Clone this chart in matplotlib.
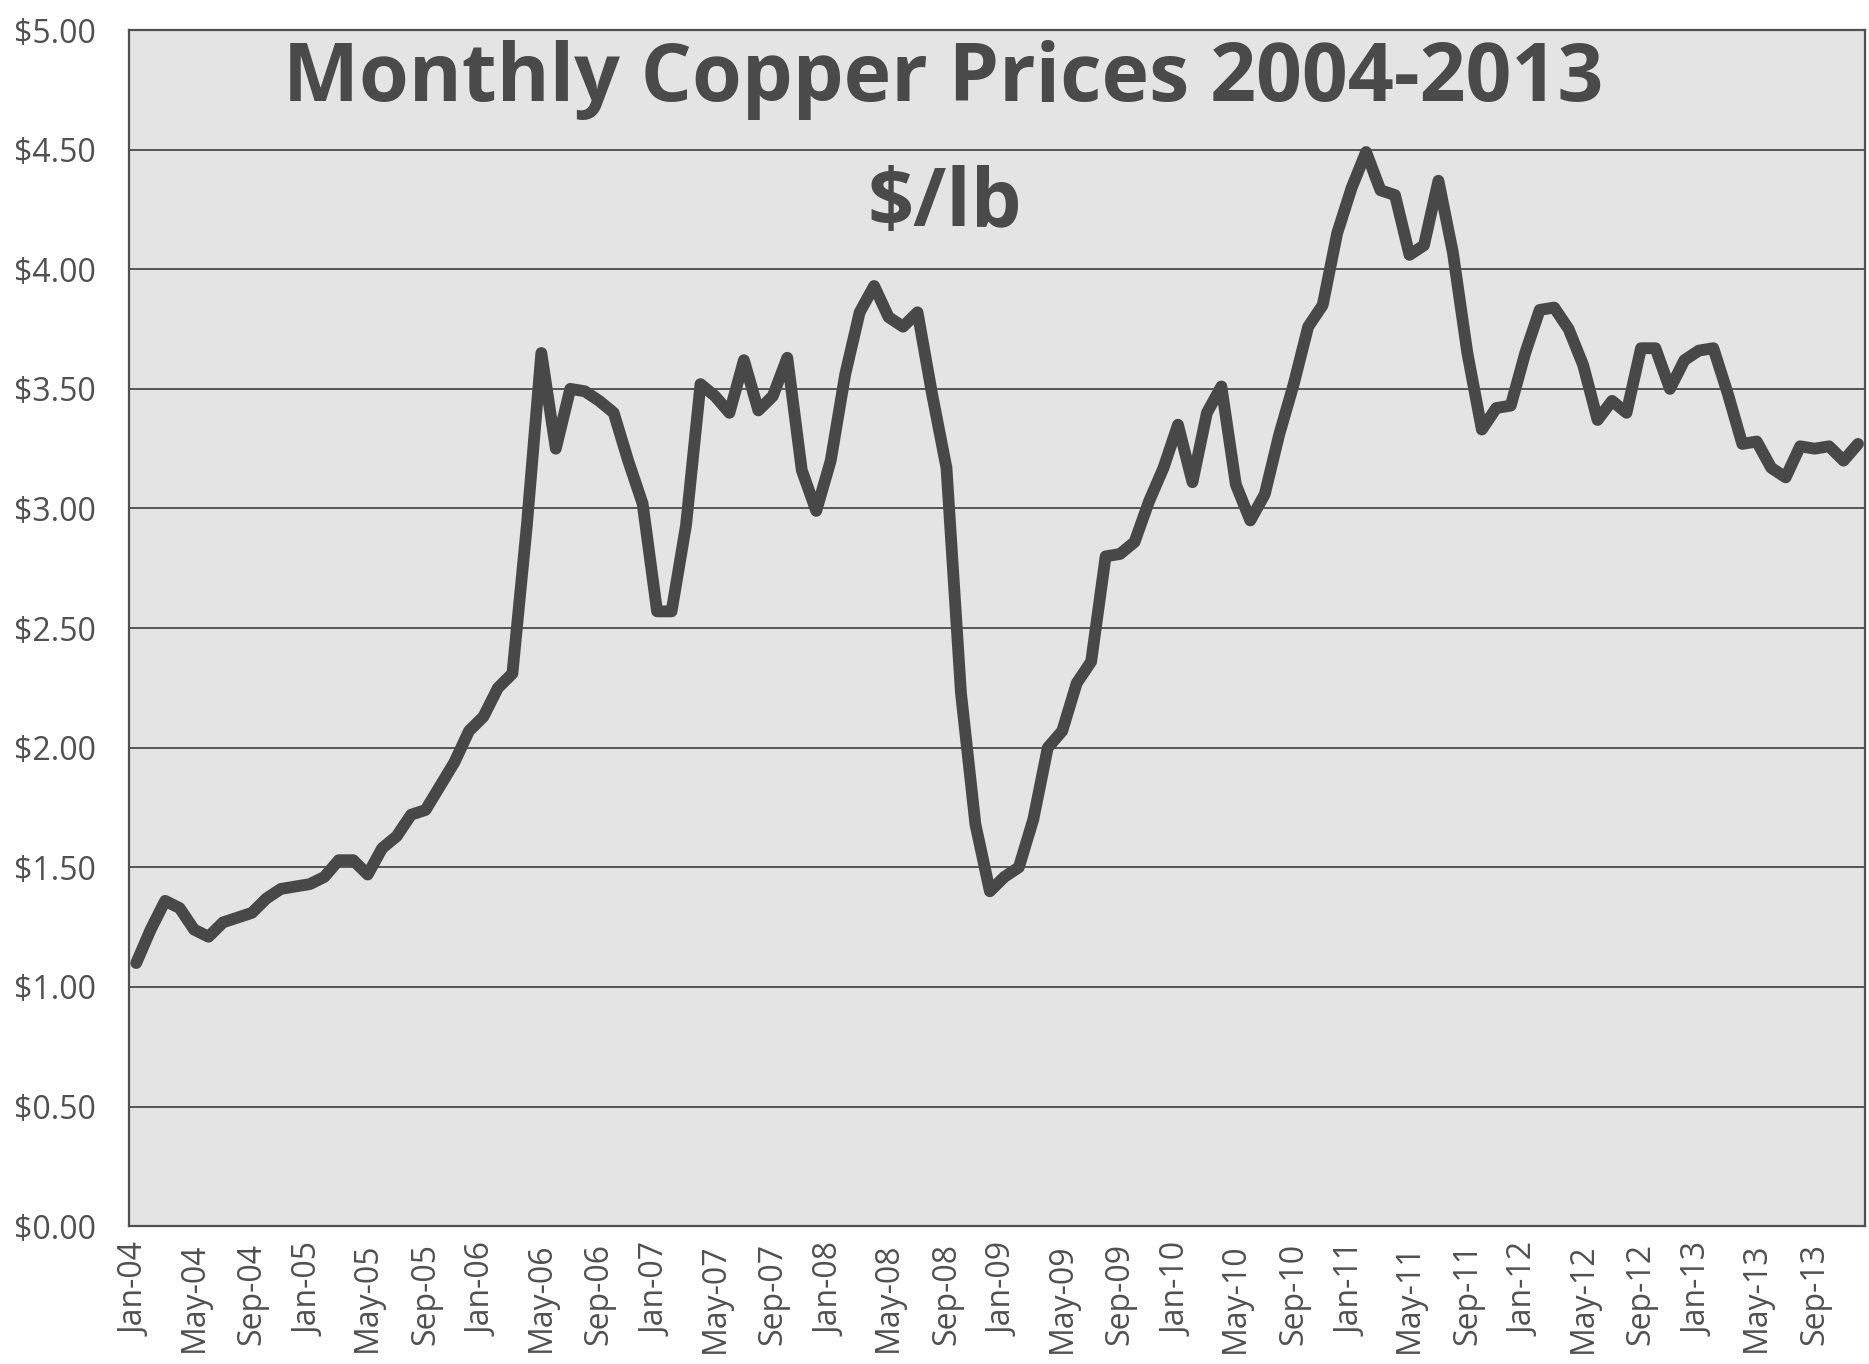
import matplotlib.pyplot as plt
import numpy as np

plt.rcParams['font.family'] = ['Open Sans', 'DejaVu Sans']

# monthly copper price, $/lb, Jan 2004 .. Dec 2013
months = ["Jan", "Feb", "Mar", "Apr", "May", "Jun",
          "Jul", "Aug", "Sep", "Oct", "Nov", "Dec"]
years = ["04", "05", "06", "07", "08", "09", "10", "11", "12", "13"]
labels = [m + "-" + y for y in years for m in months]

price_2004 = [1.10, 1.24, 1.36, 1.33, 1.24, 1.21, 1.27, 1.29, 1.31, 1.37, 1.41, 1.42]
price_2005 = [1.43, 1.46, 1.53, 1.53, 1.47, 1.58, 1.63, 1.72, 1.74, 1.84, 1.94, 2.07]
price_2006 = [2.13, 2.25, 2.31, 2.93, 3.65, 3.25, 3.50, 3.49, 3.45, 3.40, 3.20, 3.02]
price_2007 = [2.57, 2.57, 2.93, 3.52, 3.47, 3.40, 3.62, 3.41, 3.47, 3.63, 3.16, 2.99]
price_2008 = [3.20, 3.56, 3.82, 3.93, 3.80, 3.76, 3.82, 3.48, 3.17, 2.23, 1.68, 1.40]
price_2009 = [1.46, 1.50, 1.70, 2.00, 2.07, 2.27, 2.36, 2.80, 2.81, 2.86, 3.03, 3.17]
price_2010 = [3.35, 3.11, 3.40, 3.51, 3.10, 2.95, 3.06, 3.31, 3.52, 3.76, 3.85, 4.15]
price_2011 = [4.34, 4.49, 4.33, 4.31, 4.06, 4.10, 4.37, 4.07, 3.65, 3.33, 3.42, 3.43]
price_2012 = [3.65, 3.83, 3.84, 3.75, 3.60, 3.37, 3.45, 3.40, 3.67, 3.67, 3.50, 3.62]
price_2013 = [3.66, 3.67, 3.48, 3.27, 3.28, 3.17, 3.13, 3.26, 3.25, 3.26, 3.20, 3.27]

prices = (price_2004 + price_2005 + price_2006 + price_2007 + price_2008
          + price_2009 + price_2010 + price_2011 + price_2012 + price_2013)

x = np.arange(len(prices))

fig = plt.figure(figsize=(18.69, 13.64), dpi=100)
ax = fig.add_axes([0.069, 0.101, 0.929, 0.877])
ax.set_facecolor('#e4e4e4')

ax.plot(x, prices, color='#484848', linewidth=8.5, solid_joinstyle='round',
        solid_capstyle='round', zorder=3)

ax.set_xlim(-0.5, len(prices) - 0.5)
ax.set_ylim(0, 5)
ax.set_yticks(np.arange(0, 5.01, 0.5))
ax.set_yticklabels(["$%.2f" % v for v in np.arange(0, 5.01, 0.5)])
ax.set_xticks(x[::4])
ax.set_xticklabels(labels[::4], rotation=90)

ax.grid(axis='y', color='#4a4a4a', linewidth=1.3)
ax.set_axisbelow(True)
ax.tick_params(axis='both', length=0, labelsize=23, labelcolor='#505050')
ax.tick_params(axis='y', pad=24)
ax.tick_params(axis='x', pad=12)
for s in ax.spines.values():
    s.set_color('#505050')
    s.set_linewidth(1.6)

ax.text(0.469, 0.9406, "Monthly Copper Prices 2004-2013", transform=ax.transAxes,
        ha='center', va='baseline', fontsize=58, fontweight='bold', color='#4a4a4a')
ax.text(0.470, 0.836, "$/lb", transform=ax.transAxes,
        ha='center', va='baseline', fontsize=58, fontweight='bold', color='#4a4a4a')

plt.savefig("out.png", dpi=100)
